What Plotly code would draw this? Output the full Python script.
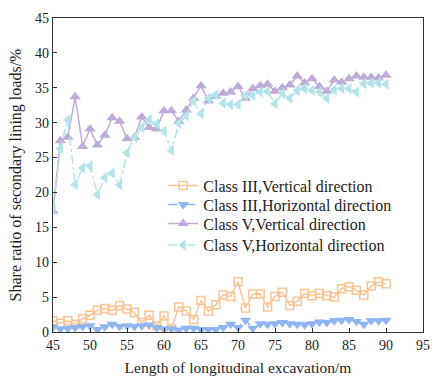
import plotly.graph_objects as go

# Excavation length (m)
length_m = list(range(45, 91))

# Share ratio of secondary lining loads (%)
class3_vertical = [1.6, 1.25, 1.6, 1.1, 1.9, 2.4, 3.1, 3.35, 3.1, 3.8, 3.3, 2.8, 1.35, 2.4, 0.9, 2.3,
                   0.45, 3.6, 3.0, 1.8, 4.5, 3.0, 3.9, 5.35, 5.1, 7.2, 3.45, 5.4, 5.45, 3.6, 5.1, 5.7,
                   3.8, 4.4, 5.5, 5.2, 5.5, 5.2, 5.0, 6.2, 6.5, 6.0, 5.3, 6.6, 7.2, 6.9]
class3_horizontal = [0.7, 0.45, 0.5, 0.65, 0.8, 0.9, 0.35, 0.75, 1.1, 0.8, 0.9, 0.8, 0.9, 1.0, 0.65, 0.45,
                     0.45, 0.3, 0.55, 0.55, 0.35, 0.35, 0.35, 0.65, 1.1, 0.65, 1.7, 0.55, 1.2, 1.1, 1.2, 1.35,
                     1.2, 1.1, 1.05, 1.2, 1.45, 1.35, 1.6, 1.7, 1.8, 1.5, 1.1, 1.6, 1.6, 1.7]
class5_vertical = [17.3, 27.4, 27.9, 33.7, 26.6, 29.1, 26.8, 28.2, 30.7, 30.2, 27.7, 27.9, 30.8, 29.3, 29.1, 31.7,
                   31.7, 30.2, 31.8, 33.5, 35.3, 33.1, 33.8, 34.2, 34.4, 35.2, 33.5, 34.9, 35.3, 35.5, 34.5, 35.0,
                   35.4, 36.7, 35.7, 36.3, 35.2, 34.5, 36.1, 35.8, 36.3, 36.7, 36.5, 36.5, 36.4, 36.8]
class5_horizontal = [17.6, 26.3, 30.4, 21.1, 23.5, 23.8, 19.7, 22.1, 22.8, 21.1, 25.7, 27.9, 29.3, 30.4, 29.8, 28.8,
                     26.0, 29.9, 31.0, 33.1, 31.3, 33.5, 34.0, 32.8, 32.6, 32.6, 33.9, 33.9, 34.4, 34.5, 32.7, 34.2,
                     33.5, 34.6, 34.9, 34.6, 34.4, 33.5, 34.7, 34.9, 34.9, 34.4, 35.6, 35.7, 35.7, 35.5]

series = [
    ("Class III,Vertical direction", class3_vertical, "#FDC493", "solid", "square-open", 8),
    ("Class III,Horizontal direction", class3_horizontal, "#8FB5F2", "dashdot", "triangle-down", 10),
    ("Class V,Vertical direction", class5_vertical, "#BFAAD8", "solid", "triangle-up", 10),
    ("Class V,Horizontal direction", class5_horizontal, "#B2E4EA", "dashdot", "triangle-left", 10),
]

# one single-entry legend per series so the rows sit tightly stacked
legend_ids = ["legend", "legend2", "legend3", "legend4"]
legend_rows_y = [0.466, 0.406, 0.345, 0.277]

fig = go.Figure()
for (name, values, color, dash, symbol, size), lid in zip(series, legend_ids):
    fig.add_trace(go.Scatter(
        x=length_m, y=values, name=name, mode="lines+markers", legend=lid,
        line=dict(color=color, width=1.5, dash=dash),
        marker=dict(symbol=symbol, size=size, color=color,
                    line=dict(color=color, width=1.5 if symbol.endswith("open") else 0)),
    ))

axis_common = dict(
    showline=True, linecolor="#333333", linewidth=1.2, mirror=True,
    ticks="inside", ticklen=4, tickcolor="#333333", showgrid=False, zeroline=False,
    tickfont=dict(family="Liberation Serif", size=14, color="#222222"),
)

legend_style = dict(x=0.298, xanchor="left", yanchor="middle",
                    bgcolor="rgba(255,255,255,0)",
                    font=dict(family="Liberation Serif", size=16, color="#222222"))

fig.update_layout(
    width=441, height=385,
    margin=dict(l=53, r=11, t=11, b=52),
    paper_bgcolor="white", plot_bgcolor="white",
    font=dict(family="Liberation Serif", size=14, color="#222222"),
    xaxis=dict(range=[45, 95], dtick=5, tick0=45,
               title=dict(text="Length of longitudinal excavation/m", standoff=10,
                          font=dict(family="Liberation Serif", size=15.5)),
               **axis_common),
    yaxis=dict(range=[0, 45], dtick=5, tick0=0,
               title=dict(text="Share ratio of secondary lining loads/%", standoff=9,
                          font=dict(family="Liberation Serif", size=16)),
               **axis_common),
    showlegend=True,
)
for lid, ly in zip(legend_ids, legend_rows_y):
    fig.update_layout({lid: dict(y=ly, **legend_style)})

fig.write_html("out.html")
